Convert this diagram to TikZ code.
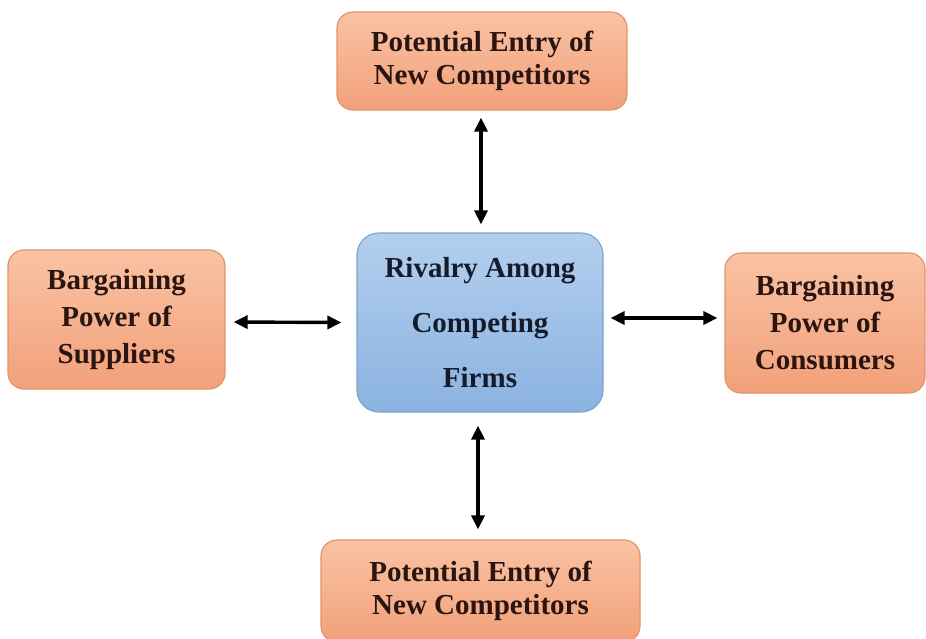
\documentclass[tikz,border=0pt]{standalone}
\usepackage{fontspec}
\setmainfont{Liberation Serif}
\usetikzlibrary{arrows.meta}
\definecolor{peachtop}{HTML}{F9C3A4}
\definecolor{peachbot}{HTML}{F2A07A}
\definecolor{peachedge}{HTML}{E0966A}
\definecolor{bluetop}{HTML}{B3CFEE}
\definecolor{bluebot}{HTML}{8BB2E0}
\definecolor{blueedge}{HTML}{7FA3CF}
\definecolor{forceink}{HTML}{2A1510}
\definecolor{rivalink}{HTML}{141C2C}
\tikzset{
  forcebox/.style={draw=peachedge, line width=1.2pt, rounded corners=16pt,
    top color=peachtop, bottom color=peachbot, align=center,
    font=\bfseries\fontsize{29}{33}\selectfont, text=forceink, inner sep=0pt},
  rivalbox/.style={draw=blueedge, line width=1.2pt, rounded corners=22pt,
    top color=bluetop, bottom color=bluebot, align=center,
    font=\bfseries\fontsize{29}{33}\selectfont, text=rivalink, inner sep=0pt},
  link/.style={line width=3.4pt, {Triangle[length=14pt,width=13pt]}-{Triangle[length=14pt,width=13pt]}}
}
\begin{document}
\begin{tikzpicture}[x=1pt,y=-1pt]
  \useasboundingbox (0,0) rectangle (926,638);
  \fill[white] (0,0) rectangle (926,638);

  % the five forces
  \node[forcebox, minimum width=290pt, minimum height=98pt] (top) at (482,61)
    {Potential Entry of\\New Competitors};
  \node[rivalbox, minimum width=246pt, minimum height=179pt] (center) at (480,322.5)
    {Rivalry Among\\[22pt]Competing\\[22pt]Firms};
  \node[forcebox, minimum width=217pt, minimum height=139pt, font=\bfseries\fontsize{29}{37}\selectfont] (left) at (116.5,319.5)
    {Bargaining\\Power of\\Suppliers};
  \node[forcebox, minimum width=200pt, minimum height=140pt, font=\bfseries\fontsize{29}{37}\selectfont] (right) at (825,323)
    {Bargaining\\Power of\\Consumers};
  \node[forcebox, minimum width=319pt, minimum height=102pt] (bottom) at (480.5,591)
    {Potential Entry of\\New Competitors};

  % two-way links to the central rivalry box
  \draw[link] ([xshift=-1pt,yshift=-7pt]top.south) -- ([xshift=1pt,yshift=8pt]center.north);
  \draw[link] ([xshift=8pt,yshift=-2.5pt]left.east) -- ([xshift=-15pt]center.west);
  \draw[link] ([xshift=7pt,yshift=4.5pt]center.east) -- ([xshift=-7pt,yshift=5pt]right.west);
  \draw[link] ([xshift=-2pt,yshift=-13pt]center.south) -- ([xshift=-2.5pt,yshift=10pt]bottom.north);
\end{tikzpicture}
\end{document}
